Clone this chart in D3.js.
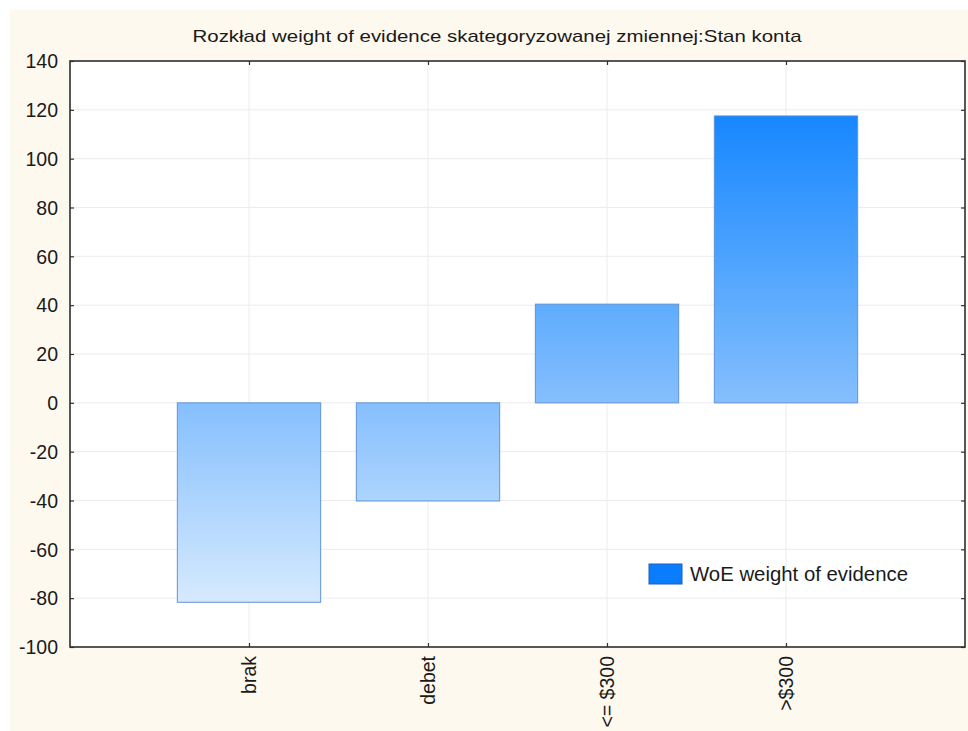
<!DOCTYPE html>
<html>
<head>
<meta charset="utf-8">
<script src="https://cdn.jsdelivr.net/npm/d3@7"></script>
<style>
  html, body { margin: 0; padding: 0; background: #fff; }
  svg { display: block; }
</style>
</head>
<body>
<svg id="chart"></svg>
<script>
const categories = ["brak", "debet", "<= $300", ">$300"];
const woeValues = [-81.7, -40.2, 40.4, 117.5];
const yTicks = [-100, -80, -60, -40, -20, 0, 20, 40, 60, 80, 100, 120, 140];
const titleText = "Rozkład weight of evidence skategoryzowanej zmiennej:Stan konta";
const legendLabel = "WoE weight of evidence";

const W = 968, H = 731;
const m = { top: 61, right: 3, bottom: 84, left: 70 };
const iW = W - m.left - m.right;
const iH = H - m.top - m.bottom;
const FONT = "'Liberation Sans', Arial, sans-serif";
const TICK_FS = "19.5px";

const svg = d3.select("#chart").attr("width", W).attr("height", H);

// cream page background
svg.append("rect")
  .attr("x", 10).attr("y", 10)
  .attr("width", W - 10).attr("height", H - 10)
  .attr("fill", "#fdf9ef");

// title
svg.append("text")
  .attr("x", 497).attr("y", 42)
  .attr("text-anchor", "middle")
  .attr("textLength", 609).attr("lengthAdjust", "spacingAndGlyphs")
  .style("font-family", FONT).style("font-size", "17px").style("fill", "#1a1a1a")
  .text(titleText);

// scales: categories sit at 1..4 on a 0..5 axis
const x = d3.scaleLinear().domain([0, categories.length + 1]).range([0, iW]);
const y = d3.scaleLinear().domain([-100, 140]).range([iH, 0]);
const bandW = x(1) - x(0);
const barW = bandW * 0.8;

const g = svg.append("g").attr("transform", `translate(${m.left},${m.top})`);

g.append("rect").attr("width", iW).attr("height", iH).attr("fill", "#fff");

// gradient by value
const defs = svg.append("defs");
const grad = defs.append("linearGradient")
  .attr("id", "woeGrad")
  .attr("gradientUnits", "userSpaceOnUse")
  .attr("x1", 0).attr("x2", 0)
  .attr("y1", y(118)).attr("y2", y(-82));
grad.append("stop").attr("offset", "0%").attr("stop-color", "#1687ff");
grad.append("stop").attr("offset", "58%").attr("stop-color", "#83befd");
grad.append("stop").attr("offset", "100%").attr("stop-color", "#d6eafe");

// grid
g.append("g").selectAll("line")
  .data(yTicks.slice(1, -1)).join("line")
  .attr("x1", 0).attr("x2", iW)
  .attr("y1", d => y(d)).attr("y2", d => y(d))
  .attr("stroke", "#ececec").attr("stroke-width", 1);

g.append("g").selectAll("line")
  .data(categories).join("line")
  .attr("x1", (d, i) => x(i + 1)).attr("x2", (d, i) => x(i + 1))
  .attr("y1", 0).attr("y2", iH)
  .attr("stroke", "#ececec").attr("stroke-width", 1);

// bars
g.selectAll(".bar")
  .data(woeValues).join("rect")
  .attr("class", "bar")
  .attr("x", (d, i) => x(i + 1) - barW / 2)
  .attr("width", barW)
  .attr("y", d => y(Math.max(0, d)))
  .attr("height", d => Math.abs(y(d) - y(0)))
  .attr("fill", "url(#woeGrad)")
  .attr("stroke", "#5a8fd4").attr("stroke-opacity", 0.8).attr("stroke-width", 1.2);

// axes (inward ticks on all four sides)
const styleAxis = ax => {
  ax.select(".domain").remove();
  ax.selectAll(".tick line").attr("stroke", "#333").attr("stroke-width", 1.2);
  ax.selectAll(".tick text")
    .style("font-family", FONT).style("font-size", TICK_FS).style("fill", "#1a1a1a");
};

g.append("g")
  .call(d3.axisLeft(y).tickValues(yTicks).tickSizeInner(-4).tickSizeOuter(0)
    .tickPadding(12).tickFormat(d => String(d)))
  .call(styleAxis)
  .call(ax => ax.selectAll(".tick text").attr("dy", "0.35em"));

g.append("g")
  .attr("transform", `translate(${iW},0)`)
  .call(d3.axisRight(y).tickValues(yTicks).tickSizeInner(-4).tickSizeOuter(0).tickFormat(""))
  .call(styleAxis);

g.append("g")
  .call(d3.axisTop(x).tickValues(d3.range(1, categories.length + 1)).tickSizeInner(-4).tickSizeOuter(0).tickFormat(""))
  .call(styleAxis);

g.append("g")
  .attr("transform", `translate(0,${iH})`)
  .call(d3.axisBottom(x).tickValues(d3.range(1, categories.length + 1))
    .tickSizeInner(-4).tickSizeOuter(0).tickFormat(d => categories[d - 1]))
  .call(styleAxis)
  .call(ax => ax.selectAll(".tick text")
    .attr("transform", "rotate(-90)")
    .attr("text-anchor", "end")
    .attr("x", -9).attr("y", 0).attr("dy", "0.35em"));

// frame
g.append("rect")
  .attr("width", iW).attr("height", iH)
  .attr("fill", "none").attr("stroke", "#2e2e2e").attr("stroke-width", 1.6);

// legend
svg.append("rect")
  .attr("x", 649).attr("y", 564)
  .attr("width", 33).attr("height", 20)
  .attr("fill", "#0a7dff").attr("stroke", "#1f5fb8").attr("stroke-width", 1);
svg.append("text")
  .attr("x", 690).attr("y", 581)
  .attr("textLength", 218).attr("lengthAdjust", "spacingAndGlyphs")
  .style("font-family", FONT).style("font-size", TICK_FS).style("fill", "#1a1a1a")
  .text(legendLabel);
</script>
</body>
</html>
